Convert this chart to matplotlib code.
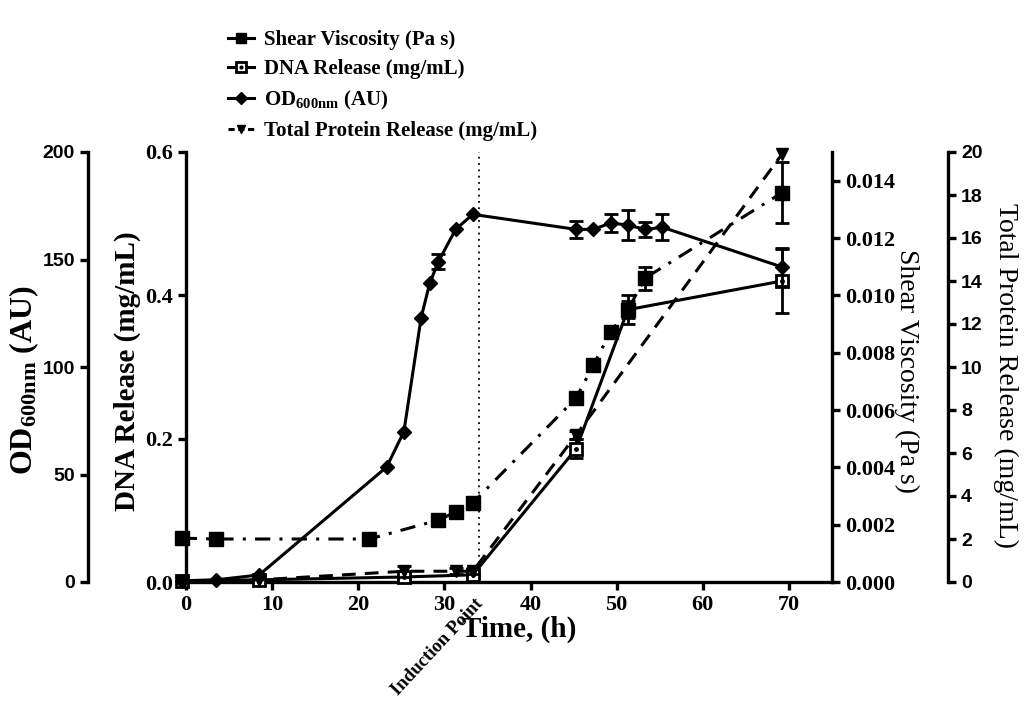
import numpy as np
import matplotlib
matplotlib.use('Agg')
from matplotlib import pyplot as plt
from matplotlib.lines import Line2D
from matplotlib.ticker import FormatStrFormatter, MultipleLocator
from matplotlib.legend_handler import HandlerTuple

plt.rcParams['font.family'] = 'Liberation Serif'
plt.rcParams['font.weight'] = 'bold'
plt.rcParams['mathtext.fontset'] = 'custom'
plt.rcParams['mathtext.rm'] = 'Liberation Serif:bold'
plt.rcParams['mathtext.bf'] = 'Liberation Serif:bold'
plt.rcParams['mathtext.it'] = 'Liberation Serif:bold'
plt.rcParams['mathtext.default'] = 'bf'

# OD600nm (AU)
od_t = [-0.5, 3.5, 8.5, 23.3, 25.3, 27.3, 28.3, 29.3, 31.3, 33.3,
        45.3, 47.3, 49.3, 51.3, 53.3, 55.3, 69.2]
od_v = [0.5, 1, 3.3, 53.5, 70, 123, 139, 149, 164, 171,
        164, 164, 167, 166, 164, 165, 146.5]
od_e = [0, 0, 0, 0, 0, 0, 0, 3.5, 0, 0,
        4, 0, 4, 7, 3.5, 6, 9]

# DNA release (mg/mL)
dna_t = [-0.5, 8.5, 25.3, 33.3, 45.3, 51.3, 69.2]
dna_v = [0.002, 0.003, 0.007, 0.01, 0.186, 0.38, 0.42]
dna_e = [0, 0, 0.004, 0.003, 0.013, 0.02, 0.045]

# shear viscosity (Pa s)
sh_t = [-0.5, 3.5, 21.3, 29.3, 31.3, 33.3, 45.3, 47.3, 49.3, 51.3, 53.3, 69.2]
sh_v = [0.00153, 0.0015, 0.0015, 0.00216, 0.00244, 0.00276,
        0.00642, 0.00757, 0.00872, 0.0095, 0.0106, 0.01358]
sh_e = [0, 0.00012, 0, 0, 0, 0, 0.0002, 0.0001, 0, 0.0003, 0.0004, 0.00107]

# total protein release (mg/mL)
pr_t = [-0.5, 8.5, 25.3, 31.3, 33.3, 45.3, 69.2]
pr_v = [0.05, 0.1, 0.5, 0.5, 0.5, 6.84, 19.9]
pr_e = [0, 0, 0.25, 0.15, 0.15, 0.2, 0]

induction_t = 34

LW = 2.2
SERIF = 'Liberation Serif'
SANS = 'Liberation Sans'
DASH = (0, (4.5, 3))
DASHDOT = (0, (5, 3, 1, 3))

fig = plt.figure(figsize=(10.24, 7.12), dpi=100)
W, H = 1024, 712
ax = fig.add_axes([186 / W, 1 - 582 / H, (832 - 186) / W, 430 / H])
ax_od = ax.twinx()
ax_sh = ax.twinx()
ax_pr = ax.twinx()


def errbars(a, t, v, e):
    t, v, e = np.array(t), np.array(v), np.array(e)
    m = e > 0
    a.errorbar(t[m], v[m], yerr=e[m], fmt='none', ecolor='black',
               elinewidth=2, capsize=5, capthick=2, clip_on=False, zorder=3)


# OD
ax_od.plot(od_t, od_v, color='black', lw=LW, marker='D', ms=7,
           clip_on=False, zorder=4)
errbars(ax_od, od_t, od_v, od_e)

# DNA
ax.plot(dna_t, dna_v, color='black', lw=LW, marker='s', ms=9,
        mfc='white', mec='black', mew=2, clip_on=False, zorder=4)
ax.plot(dna_t, dna_v, ls='none', marker='o', ms=2.5, color='black',
        clip_on=False, zorder=5)
errbars(ax, dna_t, dna_v, dna_e)

# shear
ax_sh.plot(sh_t, sh_v, color='black', lw=LW, ls=DASHDOT,
           marker='s', ms=10, clip_on=False, zorder=4)
errbars(ax_sh, sh_t, sh_v, sh_e)

# protein
ax_pr.plot(pr_t, pr_v, color='black', lw=LW, ls=DASH,
           marker='v', ms=8, clip_on=False, zorder=4)
errbars(ax_pr, pr_t, pr_v, pr_e)

ax.axvline(induction_t, color='black', lw=1.3, ls=(0, (1, 2.5)), zorder=1)
ax.text(induction_t - 0.5, -0.03, 'Induction Point', transform=ax.get_xaxis_transform(),
        rotation=47, rotation_mode='anchor', ha='right', va='top',
        fontsize=13.5, family=SERIF, fontweight='bold')

# main axis (time + DNA)
ax.set_xlim(0, 75)
ax.set_ylim(0, 0.6)
ax.set_xticks([0, 10, 20, 30, 40, 50, 60, 70])
ax.yaxis.set_major_locator(MultipleLocator(0.2))
ax.yaxis.set_major_formatter(FormatStrFormatter('%.1f'))
for s in ['top', 'right']:
    ax.spines[s].set_visible(False)
ax.set_xlabel('Time, (h)', fontsize=21, fontweight='bold', family=SERIF)
ax.xaxis.set_label_coords(0.515, -0.078)
ax.set_ylabel('DNA Release (mg/mL)', fontsize=21, fontweight='bold', family=SERIF)
ax.yaxis.set_label_coords(-0.07, 0.49)

# OD axis on far left
for s in ['top', 'right', 'bottom']:
    ax_od.spines[s].set_visible(False)
ax_od.spines['left'].set_visible(True)
ax_od.spines['left'].set_position(('axes', -98 / 646))
ax_od.yaxis.tick_left()
ax_od.yaxis.set_label_position('left')
ax_od.set_ylim(0, 200)
ax_od.yaxis.set_major_locator(MultipleLocator(50))
ax_od.set_ylabel('OD$_{600nm}$ (AU)', fontsize=23, fontweight='bold', family=SERIF)
ax_od.yaxis.set_label_coords(-0.225, 0.47)

# shear axis on right
for s in ['top', 'left', 'bottom']:
    ax_sh.spines[s].set_visible(False)
ax_sh.set_ylim(0, 0.015)
ax_sh.set_yticks(np.arange(0, 0.0141, 0.002))
ax_sh.yaxis.set_major_formatter(FormatStrFormatter('%.3f'))
ax_sh.set_ylabel('Shear Viscosity (Pa s)', fontsize=20, family=SERIF,
                 fontweight='normal', rotation=270, va='center')
ax_sh.yaxis.set_label_coords(1.115, 0.49)

# protein axis on far right
for s in ['top', 'left', 'bottom']:
    ax_pr.spines[s].set_visible(False)
ax_pr.spines['right'].set_position(('axes', 1 + 116 / 646))
ax_pr.set_ylim(0, 20)
ax_pr.yaxis.set_major_locator(MultipleLocator(2))
ax_pr.set_ylabel('Total Protein Release (mg/mL)', fontsize=20, family=SERIF,
                 fontweight='normal', rotation=270, va='center')
ax_pr.yaxis.set_label_coords(1.268, 0.48)

for a in [ax, ax_od, ax_sh, ax_pr]:
    for s in a.spines.values():
        s.set_linewidth(2.4)
    a.tick_params(width=2.4, length=6, labelsize=14)
    a.patch.set_visible(False)

for lab in ax.get_xticklabels() + ax.get_yticklabels() + ax_sh.get_yticklabels():
    lab.set_family(SERIF)
    lab.set_fontweight('bold')
    lab.set_fontsize(16)
for lab in ax_od.get_yticklabels() + ax_pr.get_yticklabels():
    lab.set_family(SANS)
    lab.set_fontweight('bold')

# legend uses solid lines except for protein, as in the original
h_sh = Line2D([], [], color='black', lw=LW, marker='s', ms=7)
h_dna = Line2D([], [], color='black', lw=LW, marker='s', ms=7, mfc='white', mew=2)
h_dna_dot = Line2D([], [], ls='none', color='black', marker='o', ms=2)
h_od = Line2D([], [], color='black', lw=LW, marker='D', ms=6)
h_pr = Line2D([], [], color='black', lw=LW, ls=(0, (2, 1.2)), marker='v', ms=6)
fig.legend([h_sh, (h_dna, h_dna_dot), h_od, h_pr],
           ['Shear Viscosity (Pa s)', 'DNA Release (mg/mL)',
            'OD$_{600nm}$ (AU)', 'Total Protein Release (mg/mL)'],
           handler_map={tuple: HandlerTuple(ndivide=1, pad=0)},
           loc='upper left', bbox_to_anchor=(228 / W, 1 - 30 / H),
           frameon=False, handlelength=1.25, handletextpad=0.5,
           borderpad=0, borderaxespad=0, labelspacing=0.45,
           prop={'family': SERIF, 'weight': 'bold', 'size': 15})

fig.savefig('out.png', dpi=100)
